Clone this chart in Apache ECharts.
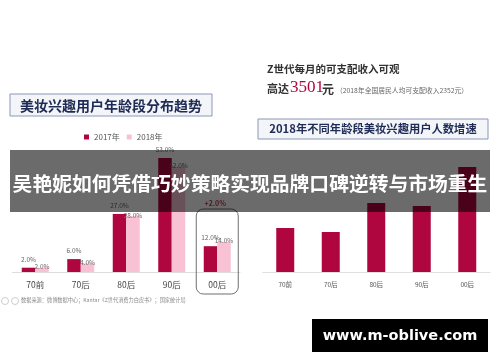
<!DOCTYPE html>
<html>
<head>
<meta charset="utf-8">
<script src="https://cdn.jsdelivr.net/npm/echarts@6/dist/echarts.min.js"></script>
<style>html,body{margin:0;padding:0;background:#fff}#c{width:500px;height:362px}</style>
</head>
<body>
<div id="c"></div>
<script>
// ---- data ----
var categories = ['70前', '70后', '80后', '90后', '00后'];
var share2017 = [2, 6, 27, 53, 12];
var share2018 = [2, 4, 26, 49, 14];
var labels2017 = ['2.0%', '6.0%', '27.0%', '53.0%', '12.0%'];
var labels2018 = ['2.0%', '4.0%', '28.0%', '52.0%', '14.0%'];
var growth2018 = [44, 40, 69, 66, 105];
var seriesNames = ['2017年', '2018年'];
var highlightText = '+2.0%';

var chart = echarts.init(document.getElementById('c'), null, {renderer: 'canvas'});
var CJK = '"Noto Sans CJK SC", sans-serif';
var crimson = '#b00640', pink = '#f9c2d4';

var option = {
  animation: false,
  textStyle: {fontFamily: CJK},
  legend: {
    data: seriesNames, left: 79, top: 128, itemWidth: 5, itemHeight: 5, itemGap: 7,
    icon: 'rect', textStyle: {fontSize: 8, color: '#555', fontFamily: CJK}
  },
  grid: [
    {left: 12.5, right: 260, top: 143, bottom: 90},
    {left: 262.5, right: 10, top: 152, bottom: 90}
  ],
  xAxis: [
    {gridIndex: 0, type: 'category', data: categories,
     axisLine: {lineStyle: {color: '#dcdcdc'}}, axisTick: {show: false},
     axisLabel: {fontSize: 8.5, color: '#444', margin: 9}},
    {gridIndex: 1, type: 'category', data: categories,
     axisLine: {lineStyle: {color: '#e0e0e0'}}, axisTick: {show: false},
     axisLabel: {fontSize: 6.5, color: '#555', margin: 9}}
  ],
  yAxis: [
    {gridIndex: 0, type: 'value', min: 0, max: 60, show: false, splitLine: {show: false}},
    {gridIndex: 1, type: 'value', min: 0, max: 120, show: false, splitLine: {show: false}}
  ],
  series: [
    {name: seriesNames[0], type: 'bar', xAxisIndex: 0, yAxisIndex: 0, data: share2017,
     barWidth: 13.5, barGap: '0%', itemStyle: {color: crimson},
     label: {show: true, position: 'top', distance: 5, fontSize: 6.5, color: '#666',
       formatter: function (p) { return labels2017[p.dataIndex]; }}},
    {name: seriesNames[1], type: 'bar', xAxisIndex: 0, yAxisIndex: 0, data: share2018,
     barWidth: 13.5, barGap: '0%', itemStyle: {color: pink},
     label: {show: true, position: ['50%', -1], align: 'center', verticalAlign: 'middle',
       fontSize: 6.5, color: '#666',
       formatter: function (p) { return labels2018[p.dataIndex]; }}},
    {name: 'growth', type: 'bar', xAxisIndex: 1, yAxisIndex: 1, data: growth2018,
     barWidth: 18, itemStyle: {color: crimson}}
  ]
};
chart.setOption(option);

// annotation box around 00后 computed from the axis
var cx = chart.convertToPixel({xAxisIndex: 0}, categories[4]);
var graphics = [
  {type: 'rect', z: 1, shape: {x: 10, y: 94, width: 202, height: 22},
   style: {fill: '#f3f5f9', stroke: '#8a97b6', lineWidth: 1}},
  {type: 'text', z: 2, x: 111, y: 105.5,
   style: {text: '美妆兴趣用户年龄段分布趋势', font: 'bold 14px ' + CJK, fill: '#1e2b55',
     align: 'center', verticalAlign: 'middle'}},
  {type: 'rect', z: 1, shape: {x: 258, y: 119, width: 230, height: 20},
   style: {fill: '#f3f5f9', stroke: '#8a97b6', lineWidth: 1}},
  {type: 'text', z: 2, x: 373, y: 129,
   style: {text: '2018年不同年龄段美妆兴趣用户人数增速', font: 'bold 11.3px ' + CJK, fill: '#1e2b55',
     align: 'center', verticalAlign: 'middle'}},
  {type: 'text', z: 2, x: 267, y: 69,
   style: {text: 'Z世代每月的可支配收入可观', font: 'bold 10.5px ' + CJK, fill: '#333',
     align: 'left', verticalAlign: 'middle'}},
  {type: 'text', z: 2, x: 267, y: 89,
   style: {text: '高达', font: 'bold 11px ' + CJK, fill: '#333', align: 'left', verticalAlign: 'middle'}},
  {type: 'text', z: 2, x: 290, y: 88,
   style: {text: '3501', font: '17px "Liberation Serif", serif', fill: '#b00640', align: 'left', verticalAlign: 'middle'}},
  {type: 'text', z: 2, x: 322, y: 89.5,
   style: {text: '元', font: 'bold 12px ' + CJK, fill: '#333', align: 'left', verticalAlign: 'middle'}},
  {type: 'text', z: 2, x: 336, y: 90,
   style: {text: '（2018年全国居民人均可支配收入2352元）', font: '6.8px ' + CJK, fill: '#666', align: 'left', verticalAlign: 'middle'}},
  {type: 'rect', z: 3, shape: {x: cx - 21, y: 209, width: 42, height: 85, r: 7},
   style: {fill: 'none', stroke: '#6f6f6f', lineWidth: 1}},
  {type: 'text', z: 3, x: cx - 2, y: 203,
   style: {text: highlightText, font: 'bold 7px ' + CJK, fill: '#c8304a', align: 'center', verticalAlign: 'middle'}},
  {type: 'circle', z: 2, shape: {cx: 5, cy: 301, r: 3.5}, style: {fill: 'none', stroke: '#ccc', lineWidth: 1}},
  {type: 'circle', z: 2, shape: {cx: 15, cy: 301, r: 3.5}, style: {fill: 'none', stroke: '#ccc', lineWidth: 1}},
  {type: 'text', z: 2, x: 21, y: 300.5,
   style: {text: '数据来源：微博数据中心；Kantar《Z世代消费力白皮书》；国家统计局', font: '5.2px ' + CJK, fill: '#888',
     align: 'left', verticalAlign: 'middle'}},
  {type: 'rect', z: 100, shape: {x: 10, y: 150, width: 480, height: 62},
   style: {fill: 'rgba(0,0,0,0.58)'}},
  {type: 'text', z: 101, x: 250, y: 183,
   style: {text: '吴艳妮如何凭借巧妙策略实现品牌口碑逆转与市场重生', font: 'bold 19.8px ' + CJK, fill: '#fff',
     align: 'center', verticalAlign: 'middle'}},
  {type: 'rect', z: 100, shape: {x: 312, y: 319, width: 176, height: 33}, style: {fill: '#000'}},
  {type: 'text', z: 101, x: 400, y: 336,
   style: {text: 'www.m-oblive.com', font: 'bold 14.5px "DejaVu Sans", sans-serif', fill: '#fff',
     align: 'center', verticalAlign: 'middle'}}
];
chart.setOption({graphic: {elements: graphics}});
</script>
</body>
</html>
